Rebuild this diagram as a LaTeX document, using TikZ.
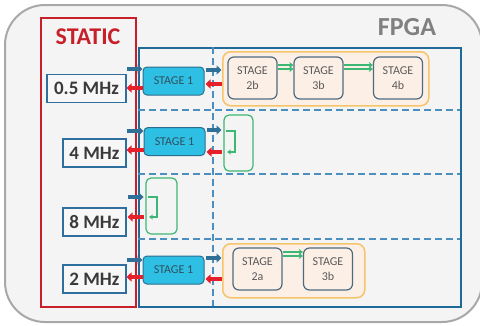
\documentclass[tikz,border=0pt]{standalone}
\usepackage{fontspec}
\setmainfont{Carlito}
\usetikzlibrary{arrows.meta,calc}
\definecolor{outerfill}{HTML}{F4F4F4}
\definecolor{outerline}{HTML}{A8A8A8}
\definecolor{staticred}{HTML}{C8202A}
\definecolor{fpgablue}{HTML}{1E6B9A}
\definecolor{dashblue}{HTML}{4A8FBF}
\definecolor{freqblue}{HTML}{2E6F9E}
\definecolor{txtdark}{HTML}{3A3A3A}
\definecolor{stagecyan}{HTML}{2EC0E4}
\definecolor{stagecyanline}{HTML}{2B6F8F}
\definecolor{stagetxt}{HTML}{2F4F5F}
\definecolor{orangeline}{HTML}{F6C46B}
\definecolor{peach}{HTML}{FCEFE6}
\definecolor{stageline}{HTML}{4D6B80}
\definecolor{stagegray}{HTML}{5A5A5A}
\definecolor{grn}{HTML}{3CB874}
\definecolor{arrblue}{HTML}{2F6F98}
\definecolor{arrred}{HTML}{E5202A}
\definecolor{fpgagray}{HTML}{808080}
\begin{document}
\begin{tikzpicture}[x=1pt,y=-1pt,
  frame/.style={line width=1.5pt, inner sep=0pt, anchor=north west},
  freq/.style={draw=freqblue, line width=1.2pt, fill=white!97!black, inner sep=0pt,
    minimum height=28pt, font=\bfseries\fontsize{19}{19}\selectfont, text=txtdark},
  stageone/.style={draw=stagecyanline, line width=1pt, fill=stagecyan, rounded corners=4pt,
    minimum width=61pt, minimum height=28pt, inner sep=0pt,
    font=\fontsize{12}{12}\selectfont, text=stagetxt},
  container/.style={draw=orangeline, line width=1.5pt, fill=peach, rounded corners=8pt,
    inner sep=0pt, anchor=north west},
  stagebox/.style={draw=stageline, line width=1.2pt, fill=peach, rounded corners=6pt,
    minimum width=49pt, minimum height=42pt, inner sep=0pt, align=center,
    font=\fontsize{12}{15}\selectfont, text=stagegray},
  loopbox/.style={draw=grn, line width=1.2pt, rounded corners=5pt, inner sep=0pt},
  dashline/.style={draw=dashblue, line width=1.2pt, dash pattern=on 7pt off 4pt},
  bluearr/.style={draw=arrblue, line width=4pt, -{Triangle[length=5pt,width=9pt]}},
  redarr/.style={draw=arrred, line width=4pt, -{Triangle[length=5pt,width=9pt]}},
  grarr/.style={draw=grn, line width=1.2pt, -{Stealth[length=4pt,width=6pt]}},
  loopline/.style={draw=grn, line width=1.2pt, -{Stealth[length=4pt,width=5pt]}}
]
\useasboundingbox (0,0) rectangle (480,325);
% outer FPGA rounded frame
\draw[draw=outerline, fill=outerfill, line width=2pt, rounded corners=40pt] (5,5) rectangle (482,322);
\node[font=\bfseries\fontsize{26}{26}\selectfont, text=fpgagray] (fpgalabel) at (407,27) {FPGA};
% static region
\node[frame, draw=staticred, minimum width=95pt, minimum height=289pt] (static) at (40,17) {};
\node[font=\bfseries\fontsize{24}{24}\selectfont, text=staticred] (staticlabel) at (88,37) {STATIC};
% fpga dynamic region
\node[frame, draw=fpgablue, minimum width=322pt, minimum height=259pt] (fpga) at (138,47) {};
% dashed partitions
\draw[dashline] (213,47) -- (213,306);
\draw[dashline] (138,110) -- (460,110);
\draw[dashline] (138,174) -- (460,174);
\draw[dashline] (138,239) -- (460,239);
% frequency boxes
\node[freq, minimum width=79pt] (f05) at (86.5,88.5) {0.5 MHz};
\node[freq, minimum width=63pt] (f4) at (94.5,153) {4 MHz};
\node[freq, minimum width=63pt] (f8) at (94.5,222) {8 MHz};
\node[freq, minimum width=63pt] (f2) at (94.5,279) {2 MHz};
% stage 1 boxes
\node[stageone] (s1a) at (173.5,81) {STAGE 1};
\node[stageone] (s1b) at (174.5,141.5) {STAGE 1};
\node[stageone] (s1d) at (173.5,270) {STAGE 1};
% row 1 container
\node[container, minimum width=206pt, minimum height=54pt] (cont1) at (222,51) {};
\node[stagebox] (s2b) at (252.5,78) {STAGE\\2b};
\node[stagebox] (s3b) at (318.5,78) {STAGE\\3b};
\node[stagebox] (s4b) at (398,78) {STAGE\\4b};
\draw[grarr] ([yshift=13pt]s2b.east) -- ([yshift=13pt]s3b.west);
\draw[grarr] ([yshift=9pt]s2b.east) -- ([yshift=9pt]s3b.west);
\draw[grarr] ([yshift=13pt]s3b.east) -- ([yshift=13pt]s4b.west);
\draw[grarr] ([yshift=9pt]s3b.east) -- ([yshift=9pt]s4b.west);
% row 4 container
\node[container, minimum width=142pt, minimum height=54pt] (cont4) at (222,243) {};
\node[stagebox] (s2a) at (257.5,269) {STAGE\\2a};
\node[stagebox] (s3bb) at (328,269) {STAGE\\3b};
\draw[grarr] ([yshift=17pt]s2a.east) -- ([yshift=17pt]s3bb.west);
\draw[grarr] ([yshift=13pt]s2a.east) -- ([yshift=13pt]s3bb.west);
% loop-back boxes
\node[loopbox, minimum width=29pt, minimum height=56pt] (loop2) at (238.5,143) {};
\node[loopbox, minimum width=31pt, minimum height=56pt] (loop3) at (161.5,206) {};
\coordinate (l2a) at (226,131);
\coordinate (l2b) at (227,152);
\draw[loopline] (l2a) -- (235,131) -- (235,152) -- (l2b);
\coordinate (l3a) at (148,197);
\coordinate (l3b) at (149,217);
\draw[loopline] (l3a) -- (157,197) -- (157,217) -- (l3b);
% row 1 arrows
\draw[bluearr] ([xshift=-16pt,yshift=12pt]s1a.west) -- ([yshift=12pt]s1a.west);
\draw[redarr] ([yshift=-7pt]s1a.west) -- ([xshift=-16pt,yshift=-7pt]s1a.west);
\draw[bluearr] ([xshift=1pt,yshift=11pt]s1a.east) -- ([xshift=17pt,yshift=11pt]s1a.east);
\draw[redarr] ([xshift=17pt,yshift=-3pt]s1a.east) -- ([xshift=1pt,yshift=-3pt]s1a.east);
% row 2 arrows
\draw[bluearr] ([xshift=-17pt,yshift=10.5pt]s1b.west) -- ([yshift=10.5pt]s1b.west);
\draw[redarr] ([yshift=-8.5pt]s1b.west) -- ([xshift=-17pt,yshift=-8.5pt]s1b.west);
\draw[bluearr] ([xshift=1pt,yshift=11.5pt]s1b.east) -- ([xshift=16pt,yshift=11.5pt]s1b.east);
\draw[redarr] ([xshift=16pt,yshift=-10.5pt]s1b.east) -- ([xshift=1pt,yshift=-10.5pt]s1b.east);
% row 3 arrows
\draw[bluearr] ([xshift=1pt,yshift=25pt]f8.east) -- ([xshift=17pt,yshift=25pt]f8.east);
\draw[redarr] ([xshift=17pt,yshift=5pt]f8.east) -- ([xshift=1pt,yshift=5pt]f8.east);
% row 4 arrows
\draw[bluearr] ([xshift=-16pt,yshift=10pt]s1d.west) -- ([yshift=10pt]s1d.west);
\draw[redarr] ([yshift=-7pt]s1d.west) -- ([xshift=-16pt,yshift=-7pt]s1d.west);
\draw[bluearr] ([xshift=1pt,yshift=12pt]s1d.east) -- ([xshift=17pt,yshift=12pt]s1d.east);
\draw[redarr] ([xshift=17pt,yshift=-9pt]s1d.east) -- ([xshift=1pt,yshift=-9pt]s1d.east);
\end{tikzpicture}
\end{document}
